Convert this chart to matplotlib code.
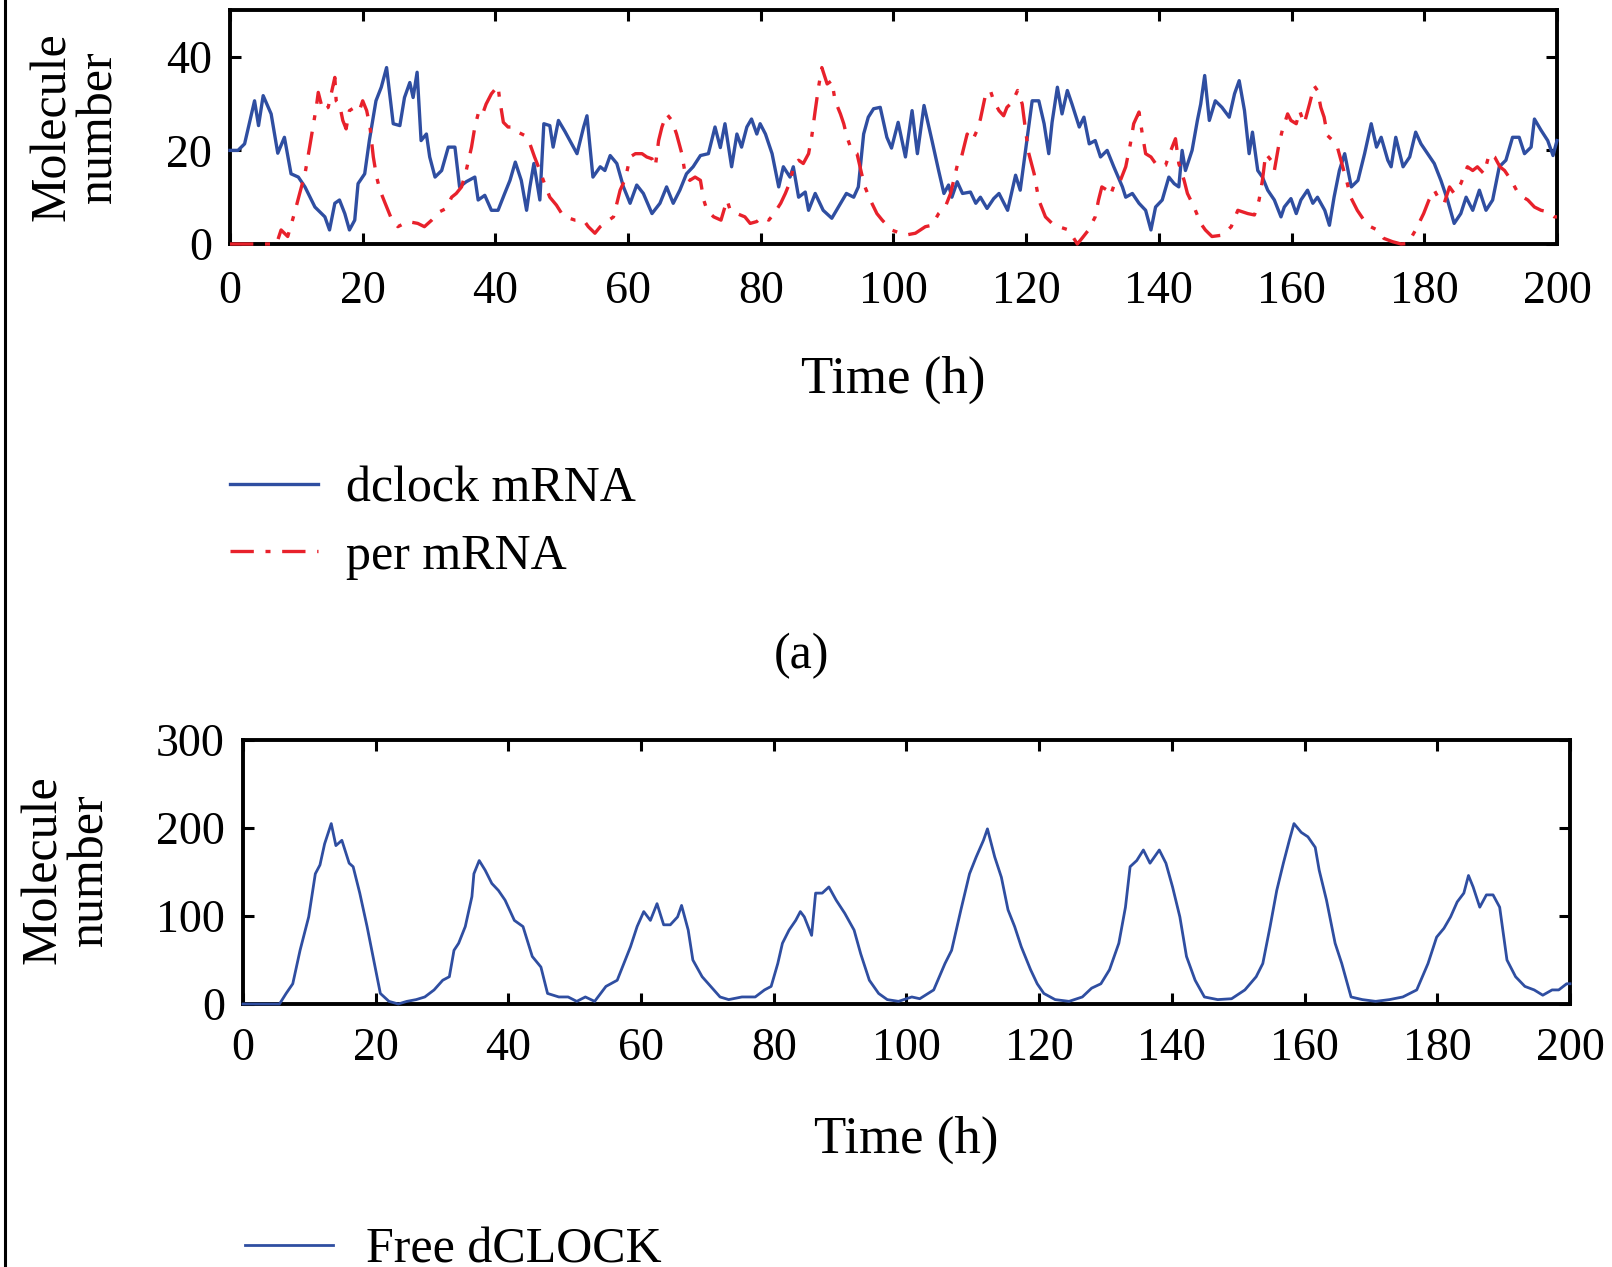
import matplotlib
matplotlib.use("Agg")
import matplotlib.pyplot as plt
from matplotlib.lines import Line2D

plt.rcParams['font.family'] = ['Liberation Serif', 'DejaVu Serif']

# values (time in h, molecule number)
dclock_t = [0, 1.2, 2.2, 3.7, 4.3, 5, 6.2, 7.2, 8.2, 9.2, 10.3, 11.3, 12.8, 13.8, 14.3, 15, 15.8, 16.5,
            17.3, 18, 18.8, 19.3, 20.3, 21, 22, 22.8, 23.6, 24.6, 25.6, 26.3, 27.1, 27.6, 28.2, 28.8,
            29.6, 30.1, 30.9, 31.9, 32.9, 33.9, 34.6, 35.6, 36.9, 37.4, 38.4, 39.4, 40.4, 41.4, 42.2,
            43, 43.9, 44.7, 45.2, 45.8, 46.7, 47.3, 48.2, 48.7, 49.5, 50.5, 52.3, 53.3, 53.8, 54.7,
            55.8, 56.5, 57.3, 58.3, 59.3, 60.3, 61.3, 62.3, 63.6, 64.8, 65.8, 66.8, 67.8, 68.8, 69.8,
            70.9, 72.1, 73.1, 73.9, 74.6, 75.6, 76.4, 77.1, 77.9, 78.6, 79.4, 79.9, 80.7, 81.7, 82.7,
            83.4, 84.4, 84.9, 85.7, 86.7, 87.2, 88.2, 89.4, 90.7, 91.7, 92.9, 94, 94.7, 95.5, 96.2,
            97, 98, 99, 99.7, 100.7, 101.8, 102.8, 103.6, 104.6, 105.8, 106.8, 107.6, 108.3, 108.8,
            109.6, 110.4, 111.6, 112.4, 113.1, 114.1, 115.1, 115.9, 117.2, 118.4, 119.1, 119.9, 120.9,
            121.9, 122.7, 123.4, 123.9, 124.7, 125.4, 126.2, 126.9, 128, 128.7, 129.5, 130.4, 131.2,
            132.2, 133.2, 134.5, 135, 136, 137, 138, 138.8, 139.5, 140.5, 141.5, 142.3, 143, 143.5,
            144, 145, 145.8, 146.3, 146.9, 147.6, 148.5, 149.5, 150.6, 151.4, 152.1, 152.9, 153.6,
            154.1, 154.9, 155.6, 156.4, 157.4, 158.4, 158.9, 159.9, 160.7, 161.4, 162.4, 163.2, 163.9,
            165, 165.7, 166.4, 167.2, 168, 169, 170, 171, 172, 172.8, 173.5, 174.5, 175, 175.7, 176.8,
            177.8, 178.7, 179.5, 180.5, 181.5, 182.5, 183.5, 184.5, 185.5, 186.3, 187.3, 188.3, 189.3,
            190.3, 191.3, 192.3, 193.3, 194.3, 195.1, 196.1, 196.6, 197.6, 198.6, 199.4, 200]
dclock_n = [20, 20, 21.4, 30.6, 25.3, 31.7, 27.8, 19.4, 22.8, 15, 14.3, 12.2, 7.9, 6.5, 5.8, 3, 8.7, 9.4,
            6.5, 3, 5.1, 12.9, 15, 22.1, 30.6, 33.5, 37.7, 25.7, 25.3, 31.3, 34.5, 31.3, 36.7, 22.1,
            23.5, 18.6, 14.3, 15.7, 20.7, 20.7, 12.2, 13.3, 14.3, 9.4, 10.4, 7.2, 7.2, 10.8, 13.6,
            17.5, 13.6, 7.2, 12.2, 17.2, 9.4, 25.7, 25.3, 20.7, 26.4, 24, 19.3, 25, 27.4, 14.3,
            16.5, 15.7, 18.9, 17.2, 12.2, 8.7, 12.6, 10.8, 6.5, 8.7, 12.2, 8.7, 11.5, 15, 16.5,
            18.9, 19.3, 25, 20.6, 25.7, 16.5, 23.5, 20.7, 25, 26.7, 23.5, 25.7, 23.5, 19.3, 12.2,
            16.5, 14.3, 16.5, 10, 11.1, 7.2, 10.8, 7.2, 5.5, 7.9, 10.8, 10, 12.2, 23.5, 27.1,
            28.9, 29.2, 22.8, 20.5, 26, 18.6, 28.5, 19.3, 29.6, 22.1, 15.7, 10.8, 12.6, 10,
            13.3, 10.8, 11.1, 8.7, 10, 7.6, 9.7, 10.8, 7.2, 14.7, 11.5, 20, 30.6,
            30.6, 25.7, 19.3, 26, 33.5, 27.8, 32.8, 29.9, 25, 27.1, 21.4, 22.1, 18.6,
            20, 16.5, 12.2, 10, 10.8, 8.7, 7.2, 3, 7.9, 9.4, 14.3, 12.9, 12.2, 20,
            15.7, 20, 26.4, 29.9, 36, 26.4, 30.6, 29.2, 27.1, 32.1, 34.9, 28.5, 19.3,
            23.9, 15.7, 14.3, 11.5, 9.4, 5.8, 7.9, 9.7, 6.5, 9.4, 11.5, 8.7, 10,
            7.2, 4, 10, 15.7, 19.3, 12.2, 13.6, 19.3, 25.7, 20.7, 22.8, 17.9, 16.5, 22.8, 16.5,
            18.6, 23.9, 21.4, 19.3, 17.2, 13.6, 9.4, 4.4, 6.5, 10, 7.2, 11.5, 7.2,
            9.4, 16.5, 17.9, 22.8, 22.8, 19.3, 20.7, 26.7, 24.3, 22.1, 18.9, 22.1]

per_t = [0, 4, 7, 7.7, 8.7, 9.7, 10.5, 11.3, 12, 12.5, 13, 13.3, 14, 14.8, 15.8, 16, 16.5, 17, 17.5, 18,
         18.8, 19.5, 20, 20.6, 21.1, 21.6, 22.1, 22.6, 23.3, 24.3, 25.3, 26.8, 28.3, 29.3, 30.4, 31.6,
         32.6, 33.4, 34.1, 34.9, 35.6, 36.4, 36.9, 37.4, 37.9, 38.6, 39.4, 40.4, 40.6, 41.2, 41.9,
         42.7, 43.4, 44.4, 45.2, 45.9, 46.7, 47.4, 48.2, 49.2, 50, 50.5, 52, 53.3, 54, 55, 55.8, 56.8,
         57.8, 58.8, 59.6, 60.3, 61.1, 62.1, 62.8, 63.6, 64.1, 64.6, 65.1, 65.8, 66.6, 67.3, 68.1,
         68.6, 69.3, 70.1, 70.9, 71.4, 71.9, 72.9, 74, 74.9, 75.4, 76.4, 77.6, 78.4, 79.4, 80.2, 81.2,
         82, 83, 83.7, 84.5, 84.9, 85.7, 86.4, 87.2, 87.7, 88.2, 88.7, 89.2, 90, 90.7, 91.2, 92, 92.5,
         93, 93.7, 94.5, 95.2, 95.7, 96.5, 97.5, 98.3, 99.7, 101.8, 103.3, 104.8, 105.8, 106.8, 107.8,
         108.6, 109.3, 109.8, 110.3, 111.1, 111.9, 112.6, 113.1, 113.9, 114.6, 115.1, 115.9, 116.6,
         117.1, 117.9, 118.7, 119.4, 119.9, 120.4, 121.2, 121.9, 122.9, 123.9, 124.9, 126.4, 127.7,
         128.4, 129.4, 130.4, 130.9, 131.4, 132.2, 132.7, 133.5, 134.2, 135, 135.7, 136.2, 137, 137.5,
         138, 138.8, 139.5, 140.3, 141, 141.8, 142.5, 143, 143.8, 144.3, 145.3, 146.3, 147, 148, 149.6,
         150.9, 151.9, 153.4, 154.4, 155.1, 155.6, 156.1, 156.9, 157.4, 158.1, 158.6, 159.4, 159.9,
         160.7, 161.2, 161.9, 162.7, 163.4, 163.9, 164.4, 164.9, 165.4, 166.2, 166.9, 167.7, 168.4,
         168.9, 169.9, 170.9, 171.9, 172.9, 173.9, 175.2, 176.5, 177.5, 178.7, 179.9, 180.7, 181.5,
         182.3, 183, 183.8, 184.5, 185.5, 186.5, 187.3, 188, 189, 189.8, 190.6, 191.4, 192.1, 193.1,
         193.9, 194.9, 195.6, 196.6, 197.6, 198.6, 199.6, 200]
per_n = [0, 0, 0, 3, 1.6, 6.5, 10.8, 15, 20.7, 25, 29.2, 32.4, 28.5, 29.2, 35.6, 30.6, 29.9, 26.4, 24.6, 28.5,
         29.2, 28.5, 30.6, 28.5, 25, 18.6, 14.3, 11.5, 9, 5.5, 3.7, 4.8, 4.4, 3.7, 5.1, 6.9,
         7.6, 10, 10.8, 12.2, 15.7, 20.7, 25, 27.8, 27.1, 29.9, 32.1, 33.8, 31.3, 26, 25,
         25, 23.9, 23.2, 21.4, 18.6, 15.7, 12.9, 10, 8.3, 6.5, 5.8, 5.1, 5.1, 3.7, 2.3, 3.7, 4.8,
         5.8, 11.5, 14, 18.6, 19.3, 19.3, 18.6, 18.2, 16.5, 22.1, 25, 27.8, 26.4, 23.5, 19.3,
         15, 13.6, 14.3, 13.6, 9.4, 7.2, 5.8, 5.1, 9.4, 7.2, 6.5, 5.8, 4.4, 4.8, 5.8, 5.1,
         6.5, 8.7, 10.8, 13.6, 16.5, 17.9, 17.2, 19.3, 23.2, 28.5, 33.5, 37.7, 34.2, 34.9, 30.6, 27.8, 25.7,
         22.8, 20, 19.3, 15, 12.2, 9.4, 6.5, 5.1, 3, 1.9, 2.3, 3.7, 4, 6.5, 7.9,
         10.8, 15, 17.9, 18.9, 23.5, 22.1, 24.3, 26.7, 32.1, 32.8, 30.6, 28.5, 27.4,
         29.2, 30.3, 32.8, 29.9, 24.3, 19.3, 15, 9.4, 5.8, 4.4, 3.7, 3, 0,
         1.2, 3, 5.8, 9.4, 12.2, 11.5, 10.4, 13.6, 13.6, 16.5, 21.4, 25.7, 28.2, 23.5,
         19.3, 18.6, 17.2, 16.5, 16.8, 20, 22.5, 17.2, 13.6, 10.8, 7.9, 4.4, 3, 1.6, 1.9,
         3.7, 7.2, 6.5, 6.2, 9.4, 13.6, 19.3, 17.9, 15.7, 21.4, 24.3, 27.8, 26.4,
         25.7, 28.5, 25.7, 29.9, 33.8, 32.8, 29.2, 27.1, 23.2, 22.1, 20.7, 16.5, 12.9,
         10, 7.2, 5.1, 3.7, 3, 1.2, 0.5, 0, 0.1, 3, 6.5, 9.4, 11.5,
         9.4, 8.7, 12.2, 10.8, 12.9, 16.5, 15.7, 16.5, 15, 19.3, 18.6, 16.5, 15.7, 13.6,
         11.5, 10, 9.4, 7.9, 7.2, 6.9, 5.8, 5.8]

free_t = [0, 5.5, 6.5, 7.5, 8.6, 9.9, 10.9, 11.6, 12.3, 13.3, 14, 14.9, 16, 16.6, 17.6, 18.7, 19.7, 20.7,
          22, 23.4, 24.7, 26.1, 27.4, 28.8, 30.1, 31.1, 31.8, 32.5, 33.5, 34.5, 34.8, 35.6, 36.5, 37.5,
          38.5, 39.5, 40.9, 42.2, 43.6, 44.9, 45.9, 47.6, 49, 50.3, 51.6, 53, 54.7, 56.4, 57.4, 58.4,
          59.4, 60.4, 61.4, 62.4, 63.4, 64.4, 65.5, 66.1, 67.1, 67.8, 69.2, 70.5, 71.9, 73.2, 75.2,
          77.2, 78.6, 79.6, 80.6, 81.3, 82.3, 83.3, 84, 84.6, 85.7, 86.3, 87.3, 88.3, 89.4, 90.7,
          92.1, 93.1, 94.4, 95.8, 97.1, 98.8, 100.8, 102, 104.1, 105.8, 106.8, 108.2, 109.5, 110.5,
          111.6, 112.2, 113.3, 114.3, 115.3, 116.3, 117.3, 118.7, 119.7, 120.7, 122.4, 124.5, 126.5,
          127.9, 129.3, 130.6, 132, 133, 133.7, 134.7, 135.7, 136.7, 138.1, 139.1, 140.1, 141.2,
          142.2, 143.5, 144.9, 146.9, 149, 151, 152.7, 153.7, 154.8, 155.8, 156.8, 157.7, 158.4,
          159.5, 160.5, 161.6, 162.2, 163.3, 164.6, 165.6, 167, 168.7, 170.7, 172.8, 174.8, 176.9,
          178.6, 179.9, 181, 182, 183, 184, 184.7, 185.4, 186.4, 187.4, 188.4, 189.4, 190.5, 191.8,
          193.2, 194.6, 195.9, 197.3, 198.3, 199.5, 200]
free_n = [0, 0, 12, 23, 61, 99, 148, 158, 182, 205, 180, 186, 160, 156, 126, 88, 50, 12,
          3, 0, 3, 5, 8, 16, 27, 31, 61, 69, 88, 122, 148, 163, 152, 137,
          129, 118, 95, 88, 54, 42, 12, 8, 8, 3, 8, 3, 20, 27, 46, 65,
          88, 105, 95, 114, 90, 90, 99, 112, 84, 50, 31, 20, 8, 5, 8,
          8, 16, 20, 46, 69, 84, 95, 105, 99, 78, 126, 126, 133, 118, 103,
          84, 57, 27, 12, 5, 3, 8, 6, 16, 46, 61, 107, 148, 167,
          186, 199, 167, 144, 107, 88, 65, 39, 23, 12, 5, 3, 8,
          18, 23, 39, 69, 110, 156, 163, 175, 160, 175, 160, 133, 99,
          54, 27, 8, 5, 6, 16, 31, 46, 88, 129, 160, 186, 205,
          195, 190, 178, 152, 118, 69, 46, 8, 5, 3, 5, 8, 16,
          46, 76, 86, 99, 116, 126, 146, 133, 110, 124, 124, 110, 50, 31,
          20, 16, 10, 16, 16, 23, 23]

time_ticks = list(range(0, 201, 20))
top_yticks = [0, 20, 40]
bottom_yticks = [0, 100, 200, 300]

blue = '#2f4ea1'
red = '#e8212b'

fig = plt.figure(figsize=(16.12, 12.67), dpi=100)
W, H = 1612, 1267


def style(ax):
    for s in ax.spines.values():
        s.set_linewidth(2.8)
    ax.tick_params(direction='in', length=8, width=2.2, top=True, right=True,
                   labelsize=33, colors='black')
    ax.tick_params(axis='y', pad=13)
    ax.set_xlim(0, 200)
    ax.set_xticks(time_ticks)


ax1 = fig.add_axes([230 / W, 1 - 244 / H, 1327 / W, 234 / H])
l1, = ax1.plot(dclock_t, dclock_n, color=blue, lw=2.4, label='dclock mRNA',
               zorder=3, clip_on=False)
l2, = ax1.plot(per_t, per_n, color=red, lw=2.4, linestyle=(0, (7, 3.5, 1.5, 3.5)),
               label='per mRNA', zorder=3, clip_on=False)
ax1.set_ylim(0, 50)
ax1.set_yticks(top_yticks)
style(ax1)
ax1.tick_params(axis='x', pad=19)

ax2 = fig.add_axes([243 / W, 1 - 1004 / H, 1327 / W, 264 / H])
l3, = ax2.plot(free_t, free_n, color=blue, lw=2.0, label='Free dCLOCK',
               zorder=3, clip_on=False)
ax2.set_ylim(0, 300)
ax2.set_yticks(bottom_yticks)
style(ax2)
ax2.tick_params(axis='x', pad=17)

# axis titles
fig.text(893 / W, 1 - 380 / H, 'Time (h)', ha='center', va='center', fontsize=38)
fig.text(906 / W, 1 - 1140 / H, 'Time (h)', ha='center', va='center', fontsize=38)
fig.text(76 / W, 1 - 127 / H, 'Molecule\nnumber', ha='center', va='center',
         rotation=90, fontsize=36, linespacing=1.0)
fig.text(67 / W, 1 - 870 / H, 'Molecule\nnumber', ha='center', va='center',
         rotation=90, fontsize=36, linespacing=1.0)
fig.text(802 / W, 1 - 656 / H, '(a)', ha='center', va='center', fontsize=36)

fig.legend(handles=[l1, l2], loc='upper left', bbox_to_anchor=(230 / W, 1 - 466 / H),
           frameon=False, fontsize=36, handlelength=1.76, handletextpad=0.55,
           labelspacing=0.41, borderpad=0, borderaxespad=0)
fig.legend(handles=[l3], loc='upper left', bbox_to_anchor=(245 / W, 1 - 1227 / H),
           frameon=False, fontsize=36, handlelength=1.76, handletextpad=0.65,
           borderpad=0, borderaxespad=0)

# page border on the left
fig.add_artist(Line2D([5 / W, 5 / W], [0, 1], color='black', lw=2.2))

fig.savefig('out.png', dpi=100)
